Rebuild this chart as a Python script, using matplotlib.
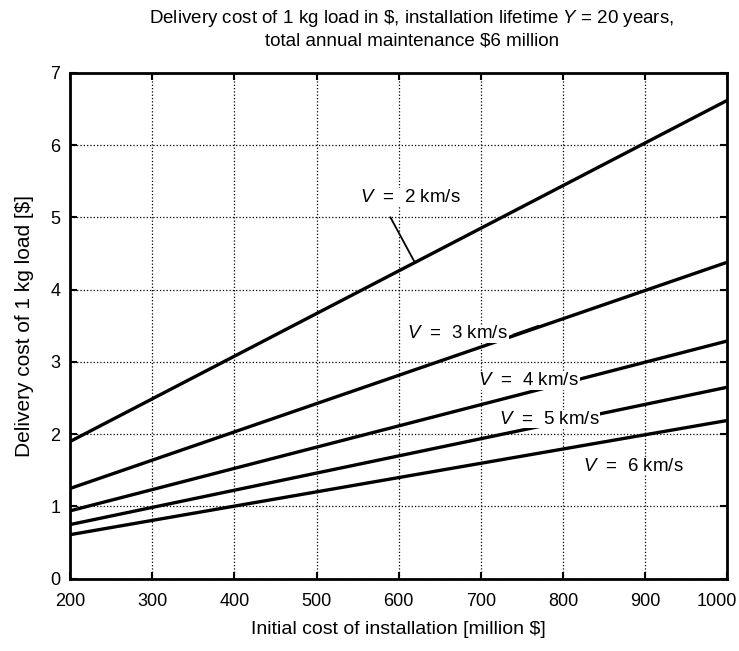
import matplotlib
matplotlib.use('Agg')
import matplotlib.pyplot as plt
from matplotlib.transforms import ScaledTranslation

plt.rcParams['font.family'] = 'Liberation Sans'
plt.rcParams['mathtext.fontset'] = 'custom'
plt.rcParams['mathtext.rm'] = 'Liberation Sans'
plt.rcParams['mathtext.it'] = 'Liberation Sans:italic'

# initial cost of installation, million $
cost_x = [200, 1000]
# delivery cost of 1 kg load, $ (read at the two ends)
v2 = [1.90, 6.62]
v3 = [1.25, 4.38]
v4 = [0.94, 3.29]
v5 = [0.75, 2.65]
v6 = [0.61, 2.19]

labels = ['$V$  =  2 km/s', '$V$  =  3 km/s', '$V$  =  4 km/s', '$V$  =  5 km/s', '$V$  =  6 km/s']
label_pos = [(614, 5.28), (672, 3.39), (758, 2.74), (783, 2.21), (886, 1.56)]

fig = plt.figure(figsize=(7.39, 6.51), dpi=100)
ax = fig.add_axes([0.095, 0.111, 0.889, 0.777])

for ys in [v2, v3, v4, v5, v6]:
    ax.plot(cost_x, ys, color='black', lw=2.4, zorder=2)

# leader line for V = 2
ax.plot([590, 620], [5.0, 4.37], color='black', lw=1.3, zorder=2)
# small leader for V = 3
ax.plot([740, 770], [3.38, 3.5], color='black', lw=1.3, zorder=2)

for txt, (x, y) in zip(labels, label_pos):
    ax.text(x, y, txt, fontsize=13.5, ha='center', va='center', zorder=3,
            bbox=dict(facecolor='white', edgecolor='none', pad=0.5))

ax.set_xlim(200, 1000)
ax.set_ylim(0, 7)
ax.set_xticks(range(200, 1001, 100))
ax.set_yticks(range(0, 8))
ax.grid(True, color='black', linestyle=':', lw=0.9)
ax.tick_params(direction='in', top=True, right=True, length=5, width=1.5, labelsize=13)
ax.tick_params(axis='x', pad=10)
ax.tick_params(axis='y', pad=7)
for sp in ax.spines.values():
    sp.set_linewidth(2)

last = ax.get_xticklabels()[-1]
last.set_transform(last.get_transform() + ScaledTranslation(-0.1, 0, fig.dpi_scale_trans))

ax.set_xlabel('Initial cost of installation [million $]', fontsize=14, labelpad=8)
ax.set_ylabel('Delivery cost of 1 kg load [$]', fontsize=15, labelpad=12)
ax.set_title('Delivery cost of 1 kg load in \\$, installation lifetime $Y$ = 20 years,\n'
             'total annual maintenance \\$6 million', fontsize=13.5, pad=20,
             linespacing=1.25, x=0.52)

plt.savefig('out.png', dpi=100)
